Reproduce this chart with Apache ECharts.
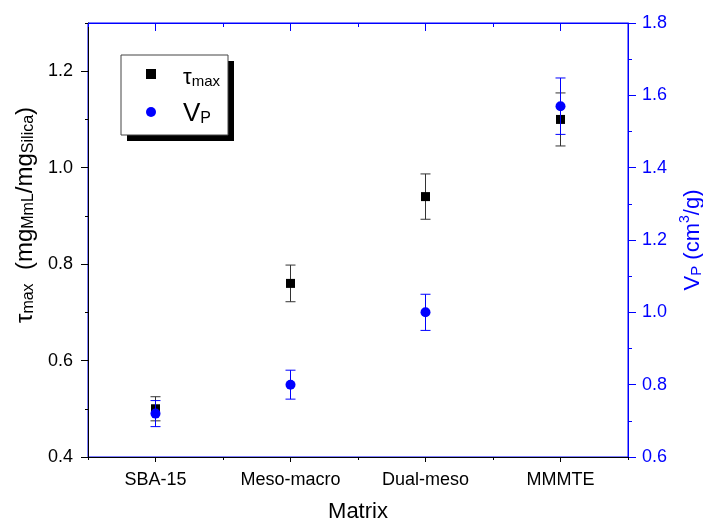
<!DOCTYPE html>
<html>
<head>
<meta charset="utf-8">
<script src="https://cdn.jsdelivr.net/npm/echarts@6/dist/echarts.min.js"></script>
<style>html,body{margin:0;padding:0;background:#fff}#c{width:703px;height:523px}</style>
</head>
<body>
<div id="c"></div>
<script>
const categories = ['SBA-15', 'Meso-macro', 'Dual-meso', 'MMMTE'];
const tauMax = [0.50, 0.76, 0.94, 1.10];
const tauErr = [0.025, 0.038, 0.047, 0.055];
const vP = [0.72, 0.80, 1.00, 1.57];
const vPErr = [0.036, 0.040, 0.050, 0.078];
const leftTicks = [0.4, 0.6, 0.8, 1.0, 1.2];
const rightTicks = [0.6, 0.8, 1.0, 1.2, 1.4, 1.6, 1.8];

const FONT = 'Liberation Sans, Arial, sans-serif';
const BLUE = '#0000ff';

// category i is placed at the centre of band [i, i+1] on a 0..N value axis
const catPos = categories.map((c, i) => i + 0.5);

function errItem(color) {
  return function (params, api) {
    const x = api.value(0), lo = api.value(1), hi = api.value(2);
    const p1 = api.coord([x, hi]), p2 = api.coord([x, lo]);
    const w = 5;
    const st = { stroke: color, lineWidth: 1 };
    return { type: 'group', children: [
      { type: 'line', shape: { x1: p1[0], y1: p1[1], x2: p2[0], y2: p2[1] }, style: st },
      { type: 'line', shape: { x1: p1[0] - w, y1: p1[1], x2: p1[0] + w, y2: p1[1] }, style: st },
      { type: 'line', shape: { x1: p2[0] - w, y1: p2[1], x2: p2[0] + w, y2: p2[1] }, style: st }
    ]};
  };
}

const tauData = categories.map((c, i) => [catPos[i], tauMax[i]]);
const vpData = categories.map((c, i) => [catPos[i], vP[i]]);
const tauErrData = categories.map((c, i) => [catPos[i], tauMax[i] - tauErr[i], tauMax[i] + tauErr[i]]);
const vpErrData = categories.map((c, i) => [catPos[i], vP[i] - vPErr[i], vP[i] + vPErr[i]]);

const catLabel = v => { const i = Math.floor(v); return (Math.abs(v - i - 0.5) < 1e-6 && categories[i]) ? categories[i] : ''; };

const chart = echarts.init(document.getElementById('c'), null, { renderer: 'canvas' });
chart.setOption({
  animation: false,
  textStyle: { fontFamily: FONT },
  grid: { left: 88, right: 75, top: 23, bottom: 66, outerBoundsMode: 'none', containLabel: false,
    show: true, borderColor: BLUE, borderWidth: 1, backgroundColor: 'transparent' },
  graphic: [
    { type: 'rect', shape: { x: 127, y: 61, width: 107, height: 80 }, style: { fill: '#000' }, z: 0 },
    { type: 'rect', shape: { x: 121, y: 55, width: 107, height: 80 }, style: { fill: '#fff', stroke: '#444', lineWidth: 1 }, z: 1 }
  ],
  legend: {
    orient: 'vertical', left: 141, top: 62, itemWidth: 10, itemHeight: 10, itemGap: 12,
    data: [{ name: 'tau', icon: 'rect' }, { name: 'vp', icon: 'circle' }],
    formatter: function (n) { return n === 'tau' ? '{a|τ}{s|max}' : '{b|V}{p|P}'; },
    textStyle: {
      rich: {
        a: { fontSize: 22, fontFamily: FONT, color: '#000', padding: [0, 0, 0, 22], lineHeight: 30, verticalAlign: 'bottom' },
        s: { fontSize: 15, fontFamily: FONT, color: '#000', lineHeight: 9, verticalAlign: 'bottom' },
        b: { fontSize: 26, fontFamily: FONT, color: '#000', padding: [0, 0, 0, 22], lineHeight: 30, verticalAlign: 'bottom' },
        p: { fontSize: 16, fontFamily: FONT, color: '#000', lineHeight: 9, verticalAlign: 'bottom' }
      }
    }
  },
  xAxis: [
    { type: 'value', position: 'bottom', min: 0, max: categories.length, interval: 1,
      axisLine: { show: true, onZero: false, lineStyle: { color: '#000', width: 1 } },
      axisTick: { show: true, length: 3, lineStyle: { color: '#000' } },
      minorTick: { show: true, splitNumber: 2, length: 5, lineStyle: { color: '#000' } },
      axisLabel: { fontSize: 18, color: '#000', margin: 14, fontFamily: FONT, customValues: catPos,
        formatter: catLabel, showMinLabel: true, showMaxLabel: true },
      splitLine: { show: false },
      name: 'Matrix', nameLocation: 'middle', nameGap: 44,
      nameTextStyle: { fontSize: 22, color: '#000', fontFamily: FONT } },
    { type: 'value', position: 'top', min: 0, max: categories.length, interval: 1,
      axisLine: { show: true, onZero: false, lineStyle: { color: BLUE, width: 1 } },
      axisTick: { show: true, inside: true, length: 4, lineStyle: { color: BLUE } },
      minorTick: { show: true, splitNumber: 2, length: 8, lineStyle: { color: BLUE } },
      axisLabel: { show: true, formatter: () => '', color: BLUE },
      splitLine: { show: false } }
  ],
  yAxis: [
    { type: 'value', position: 'left', min: 0.4, max: 1.3, interval: 0.2,
      axisLine: { show: true, onZero: false, lineStyle: { color: '#000', width: 1 } },
      axisTick: { show: true, length: 7, lineStyle: { color: '#000' }, customValues: leftTicks },
      minorTick: { show: true, splitNumber: 2, length: 3, lineStyle: { color: '#000' } },
      axisLabel: { fontSize: 18, color: '#000', margin: 15, fontFamily: FONT, customValues: leftTicks,
        formatter: v => (leftTicks.some(t => Math.abs(t - v) < 1e-6) ? v.toFixed(1) : '') },
      splitLine: { show: false },
      name: '{a|τ}{s|max}{a|  (mg}{s|MmL}{a|/mg}{s|Silica}{a|)}',
      nameLocation: 'middle', nameRotate: 90, nameGap: 50,
      nameTextStyle: { padding: [0, 0, 0, 50], rich: {
        a: { fontSize: 24, color: '#000', fontFamily: FONT, lineHeight: 28, verticalAlign: 'bottom' },
        s: { fontSize: 16, color: '#000', fontFamily: FONT, lineHeight: 12, verticalAlign: 'bottom' }
      } } },
    { type: 'value', position: 'right', min: 0.6, max: 1.8, interval: 0.2,
      axisLine: { show: true, onZero: false, lineStyle: { color: BLUE, width: 1 } },
      axisTick: { show: true, length: 8, lineStyle: { color: BLUE } },
      minorTick: { show: true, splitNumber: 2, length: 4, lineStyle: { color: BLUE } },
      axisLabel: { fontSize: 18, color: BLUE, margin: 14, fontFamily: FONT,
        formatter: v => v.toFixed(1) },
      splitLine: { show: false },
      name: '{a|V}{s|P}{a| (cm}{u|3}{a|/g)}',
      nameLocation: 'middle', nameRotate: 90, nameGap: 46,
      nameTextStyle: { rich: {
        a: { fontSize: 22, color: BLUE, fontFamily: FONT, lineHeight: 26, verticalAlign: 'bottom' },
        s: { fontSize: 15, color: BLUE, fontFamily: FONT, lineHeight: 12, verticalAlign: 'bottom' },
        u: { fontSize: 14, color: BLUE, fontFamily: FONT, lineHeight: 14, verticalAlign: 'top' }
      } } }
  ],
  series: [
    { type: 'custom', name: 'tauErr', xAxisIndex: 0, yAxisIndex: 0, z: 2,
      renderItem: errItem('#333'), data: tauErrData, encode: { x: 0, y: [1, 2] } },
    { type: 'scatter', name: 'tau', xAxisIndex: 0, yAxisIndex: 0, z: 3,
      symbol: 'rect', symbolSize: 9, itemStyle: { color: '#000', opacity: 1 }, data: tauData },
    { type: 'custom', name: 'vpErr', xAxisIndex: 0, yAxisIndex: 1, z: 4,
      renderItem: errItem(BLUE), data: vpErrData, encode: { x: 0, y: [1, 2] } },
    { type: 'scatter', name: 'vp', xAxisIndex: 0, yAxisIndex: 1, z: 5,
      symbol: 'circle', symbolSize: 10, itemStyle: { color: BLUE, opacity: 1 }, data: vpData }
  ]
});
</script>
</body>
</html>
